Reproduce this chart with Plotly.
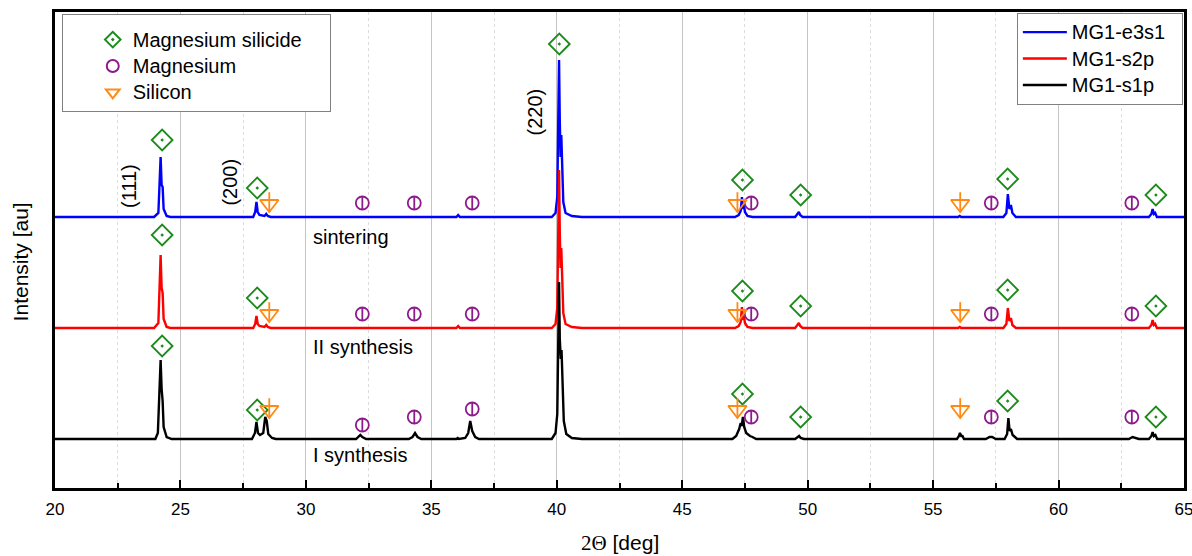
import plotly.graph_objects as go

# ---------------- data ----------------
# 2-theta positions and relative intensities (arbitrary units) of each pattern
blue_x = [20.0, 23.95, 24.12, 24.17, 24.21, 24.25, 24.29, 24.33, 24.45, 24.6,
          27.9, 27.98, 28.03, 28.08, 28.15, 28.35, 28.42, 28.48, 28.6,
          36.0, 36.07, 36.14,
          39.8, 39.95, 40.02, 40.06, 40.09, 40.12, 40.15, 40.18, 40.21, 40.26, 40.35, 40.6, 41.0,
          47.1, 47.25, 47.33, 47.38, 47.42, 47.46, 47.5, 47.6, 47.8,
          49.5, 49.6, 49.65, 49.7, 49.8,
          56.0, 56.06, 56.12,
          57.8, 57.92, 57.98, 58.04, 58.1, 58.16, 58.3,
          63.6, 63.7, 63.75, 63.8, 63.85, 63.92, 65.0]
blue_y = [0, 0, 4, 30, 60, 32, 30, 8, 1, 0,
          0, 5, 15, 5, 2, 1, 3, 1, 0,
          0, 2, 0,
          0, 4, 20, 100, 157, 95, 60, 82, 50, 15, 4, 1, 0,
          0, 2, 6, 20, 8, 12, 5, 1, 0,
          0, 3, 5, 2, 0,
          0, 1, 0,
          0, 4, 23, 8, 12, 4, 0,
          0, 3, 8, 3, 4, 0, 0]

red_x = [20.0, 23.95, 24.12, 24.17, 24.21, 24.25, 24.29, 24.33, 24.45, 24.6,
         27.9, 27.98, 28.03, 28.08, 28.15, 28.35, 28.42, 28.48, 28.6,
         36.0, 36.07, 36.14,
         39.8, 39.95, 40.02, 40.06, 40.09, 40.12, 40.15, 40.18, 40.21, 40.26, 40.35, 40.6, 41.0,
         47.1, 47.25, 47.33, 47.38, 47.42, 47.46, 47.5, 47.6, 47.8,
         49.5, 49.6, 49.65, 49.7, 49.8,
         56.0, 56.06, 56.12,
         57.8, 57.92, 57.98, 58.04, 58.1, 58.16, 58.3,
         63.6, 63.7, 63.75, 63.8, 63.85, 63.92, 65.0]
red_y = [0, 0, 5, 38, 73, 40, 35, 9, 1, 0,
         0, 4, 12, 4, 2, 1, 3, 1, 0,
         0, 2, 0,
         0, 4, 20, 100, 158, 95, 60, 80, 50, 15, 4, 1, 0,
         0, 2, 6, 21, 8, 12, 5, 1, 0,
         0, 3, 5, 2, 0,
         0, 1, 0,
         0, 4, 20, 7, 10, 3, 0,
         0, 3, 8, 3, 4, 0, 0]

black_x = [20.0, 24.0, 24.1, 24.16, 24.21, 24.25, 24.29, 24.33, 24.45, 24.65,
           27.85, 27.97, 28.03, 28.09, 28.17, 28.3, 28.38, 28.44, 28.5, 28.65, 28.8,
           32.0, 32.1, 32.17, 32.25, 32.4,
           34.1, 34.25, 34.35, 34.45, 34.6,
           36.0, 36.05, 36.1, 36.35, 36.47, 36.55, 36.63, 36.75, 36.9,
           39.8, 39.95, 40.02, 40.06, 40.09, 40.12, 40.16, 40.19, 40.22, 40.28, 40.38, 40.6, 41.0,
           47.0, 47.15, 47.27, 47.33, 47.37, 47.42, 47.47, 47.55, 47.7, 47.8, 47.95,
           49.5, 49.6, 49.66, 49.72, 49.85,
           55.95, 56.03, 56.07, 56.12, 56.17, 56.23,
           57.1, 57.25, 57.35, 57.5,
           57.85, 57.95, 58.0, 58.05, 58.1, 58.17, 58.35,
           62.8, 62.95, 63.05, 63.2,
           63.6, 63.7, 63.75, 63.8, 63.86, 63.93, 65.0]
black_y = [0, 0, 6, 40, 79, 50, 38, 12, 2, 0,
           0, 6, 17, 6, 4, 6, 22, 18, 5, 1, 0,
           0, 2, 4, 2, 0,
           0, 2, 6, 2, 0,
           0, 1, 0, 1, 6, 18, 8, 2, 0,
           0, 6, 25, 110, 157, 100, 80, 89, 55, 18, 5, 1, 0,
           0, 3, 10, 16, 13, 22, 12, 6, 3, 2, 0,
           0, 2, 3, 1, 0,
           0, 3, 6, 3, 3, 0,
           0, 2, 2, 0,
           0, 5, 21, 8, 10, 4, 0,
           0, 2, 1, 0,
           0, 3, 7, 3, 4, 0, 0]

series_names = ["MG1-e3s1", "MG1-s2p", "MG1-s1p"]
series_colors = ["#0000ff", "#ff0000", "#000000"]
series_offsets = [271, 160, 49]

# phase markers: positions (deg) and marker heights (same units as the stacked plot)
silicide_x_blue = [24.27, 28.06, 40.1, 47.4, 49.72, 57.97, 63.88]
silicide_y_blue = [348, 300, 444, 308, 293, 309, 293]
silicide_x = [24.27, 28.06, 47.4, 49.72, 57.97, 63.88]
silicide_y_red = [253, 190, 197, 182, 198, 182]
silicide_y_black = [142, 78, 94, 71, 87, 71]

magnesium_x = [32.25, 34.32, 36.63, 47.75, 57.32, 62.92]
magnesium_y_blue = [285, 285, 285, 285, 285, 285]
magnesium_y_red = [174, 174, 174, 174, 174, 174]
magnesium_y_black = [63, 71, 79, 71, 71, 71]

silicon_x = [28.54, 47.2, 56.08]
silicon_y_blue = [284, 284, 284]
silicon_y_red = [174, 174, 174]
silicon_y_black = [78, 78, 78]

# ---------------- figure ----------------
FONT = "Liberation Sans, Arial, sans-serif"
GREEN = "#1b8a1b"
PURPLE = "#8e1a8e"
ORANGE = "#ff8a14"
NB = "\u00a0"


def big(txt):
    return "<span style='font-size:20px'>" + txt + "</span>"


fig = go.Figure()

for xs, ys, name, col, off in zip([blue_x, red_x, black_x], [blue_y, red_y, black_y],
                                   series_names, series_colors, series_offsets):
    fig.add_trace(go.Scatter(x=xs, y=[v + off for v in ys], mode="lines",
                             name=big(name + NB * 2),
                             line=dict(color=col, width=2.4), legend="legend2"))

sil_x_all = silicide_x_blue + silicide_x + silicide_x
sil_y_all = silicide_y_blue + silicide_y_red + silicide_y_black
mg_x_all = magnesium_x * 3
mg_y_all = magnesium_y_blue + magnesium_y_red + magnesium_y_black
si_x_all = silicon_x * 3
si_y_all = silicon_y_blue + silicon_y_red + silicon_y_black

fig.add_trace(go.Scatter(x=sil_x_all, y=sil_y_all, mode="markers",
                         name=big("Magnesium silicide" + NB * 4),
                         marker=dict(symbol="diamond-open-dot", size=16, color=GREEN,
                                     line=dict(width=1.8, color=GREEN)), legend="legend"))
fig.add_trace(go.Scatter(x=mg_x_all, y=mg_y_all, mode="markers", name=big("Magnesium"),
                         legendgroup="mg",
                         marker=dict(symbol="circle-open", size=13, color=PURPLE,
                                     line=dict(width=1.8, color=PURPLE)), legend="legend"))
fig.add_trace(go.Scatter(x=mg_x_all, y=mg_y_all, mode="markers", showlegend=False,
                         legendgroup="mg", hoverinfo="skip",
                         marker=dict(symbol="line-ns", size=9, color=PURPLE,
                                     line=dict(width=1.8, color=PURPLE))))
fig.add_trace(go.Scatter(x=si_x_all, y=si_y_all, mode="markers", name=big("Silicon"),
                         legendgroup="si",
                         marker=dict(symbol="triangle-down-open", size=16, color=ORANGE,
                                     line=dict(width=1.8, color=ORANGE)), legend="legend"))
fig.add_trace(go.Scatter(x=si_x_all, y=[v + 2 for v in si_y_all], mode="markers", showlegend=False,
                         legendgroup="si", hoverinfo="skip",
                         marker=dict(symbol="line-ns", size=14, color=ORANGE,
                                     line=dict(width=1.8, color=ORANGE))))

# peak index labels
fig.add_annotation(x=22.95, y=302, text="(111)", textangle=-90, showarrow=False,
                   font=dict(size=20, color="black", family=FONT))
fig.add_annotation(x=26.96, y=306, text="(200)", textangle=-90, showarrow=False,
                   font=dict(size=20, color="black", family=FONT))
fig.add_annotation(x=39.15, y=376, text="(220)", textangle=-90, showarrow=False,
                   font=dict(size=20, color="black", family=FONT))
for txt, yy in [("sintering", 251), ("II synthesis", 141), ("I synthesis", 33)]:
    fig.add_annotation(x=30.2, y=yy, text=txt, showarrow=False, xanchor="left",
                       font=dict(size=20, color="black", family=FONT))

# axis titles
fig.add_annotation(xref="paper", yref="paper", x=-0.031, y=0.474, xanchor="center",
                   yanchor="middle", text="Intensity [au]",
                   textangle=-90, showarrow=False, font=dict(size=21, color="black", family=FONT))
fig.add_annotation(xref="paper", yref="paper", x=0.5, y=-0.115, xanchor="center",
                   yanchor="middle",
                   text="<span style='font-family:Liberation Serif'>2Θ</span> [deg]",
                   showarrow=False, font=dict(size=21, color="black", family=FONT))

fig.update_layout(
    width=1192, height=556,
    margin=dict(l=55, r=8, t=12, b=68, autoexpand=False),
    paper_bgcolor="white", plot_bgcolor="white",
    font=dict(family=FONT, color="black", size=16),
    legend=dict(x=0.006, y=0.996, xanchor="left", yanchor="top", bgcolor="white",
                bordercolor="#808080", borderwidth=1, font=dict(size=18),
                title=dict(text=" ", font=dict(size=5)),
                indentation=30, tracegroupgap=0, itemsizing="constant"),
    legend2=dict(x=0.999, y=0.998, xanchor="right", yanchor="top", bgcolor="white",
                 bordercolor="#808080", borderwidth=1, font=dict(size=18),
                 tracegroupgap=0, itemwidth=44),
    showlegend=True,
)

fig.update_xaxes(range=[20, 65], dtick=5, tick0=20, showline=True, linecolor="black",
                 linewidth=3, mirror=True, ticks="inside", ticklen=8, tickwidth=2,
                 tickcolor="black", showgrid=True, gridcolor="#c4c4c4", gridwidth=1,
                 zeroline=False, tickfont=dict(size=17), automargin=False,
                 ticklabeloverflow="allow", ticklabelstandoff=4,
                 minor=dict(dtick=2.5, tick0=20, ticks="inside", ticklen=5, tickwidth=2,
                            tickcolor="black", showgrid=True, gridcolor="#dcdcdc",
                            griddash="dot", gridwidth=1))
fig.update_yaxes(range=[0, 476], showline=True, linecolor="black", linewidth=3, mirror=True,
                 showticklabels=False, ticks="", showgrid=False, zeroline=False,
                 automargin=False)

fig.write_html("out.html")
